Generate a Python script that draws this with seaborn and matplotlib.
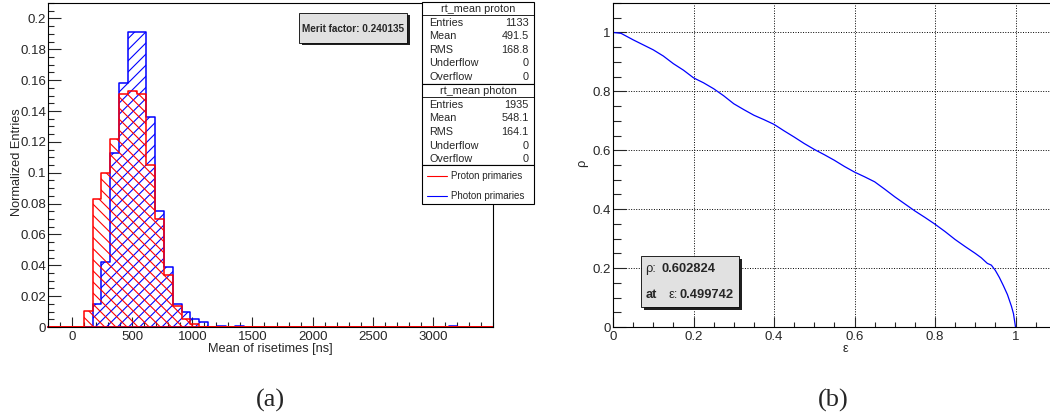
import numpy as np
import pandas as pd
import matplotlib
matplotlib.use("Agg")
import matplotlib.pyplot as plt
import seaborn as sns
from matplotlib.patches import Rectangle
from matplotlib.lines import Line2D
from matplotlib.ticker import MultipleLocator, FixedLocator, FuncFormatter

# ---------------- data ----------------
hist_range = (-200, 3500)
n_bins = 50
proton_vals = [0, 0, 0, 0, 0.0104, 0.083, 0.100, 0.122, 0.151, 0.153,
               0.151, 0.105, 0.070, 0.034, 0.0136, 0.005, 0.0018, 0, 0, 0,
               0, 0, 0, 0, 0, 0, 0, 0, 0, 0,
               0, 0, 0, 0, 0, 0, 0, 0, 0, 0,
               0, 0, 0, 0, 0, 0, 0, 0, 0, 0]
photon_vals = [0, 0, 0, 0, 0, 0.0147, 0.042, 0.113, 0.158, 0.191,
               0.191, 0.136, 0.075, 0.039, 0.0152, 0.0095, 0.005, 0.0032, 0, 0.0009,
               0, 0.0009, 0, 0, 0, 0, 0, 0, 0, 0,
               0, 0, 0, 0, 0, 0, 0, 0, 0, 0,
               0, 0, 0, 0, 0, 0.0005, 0, 0, 0, 0]
x_tick_labels = [0, 500, 1000, 1500, 2000, 2500, 3000]

proton_stats = [("Entries", "1133"), ("Mean", "491.5"), ("RMS", "168.8"),
                ("Underflow", "0"), ("Overflow", "0")]
photon_stats = [("Entries", "1935"), ("Mean", "548.1"), ("RMS", "164.1"),
                ("Underflow", "0"), ("Overflow", "0")]
merit_text = "Merit factor: 0.240135"

eps = [0.0, 0.02, 0.05, 0.075, 0.1, 0.125, 0.15, 0.175, 0.2, 0.225, 0.25, 0.275,
       0.3, 0.325, 0.35, 0.375, 0.4, 0.425, 0.45, 0.475, 0.5, 0.525, 0.55, 0.575,
       0.6, 0.625, 0.65, 0.675, 0.7, 0.725, 0.75, 0.775, 0.8, 0.825, 0.85, 0.875,
       0.9, 0.915, 0.93, 0.94, 0.95, 0.96, 0.97, 0.98, 0.99, 0.995, 1.0]
rho = [1.0, 0.997, 0.975, 0.958, 0.941, 0.92, 0.894, 0.872, 0.846, 0.829, 0.809, 0.785,
       0.758, 0.738, 0.719, 0.704, 0.688, 0.666, 0.645, 0.623, 0.603, 0.585, 0.566, 0.545,
       0.526, 0.51, 0.493, 0.468, 0.442, 0.418, 0.394, 0.372, 0.349, 0.324, 0.297, 0.273,
       0.25, 0.235, 0.216, 0.21, 0.192, 0.168, 0.14, 0.11, 0.07, 0.045, 0.0]

# ---------------- style ----------------
sns.set_style("white")
plt.rcParams['font.family'] = ['Liberation Sans', 'DejaVu Sans']
plt.rcParams['hatch.linewidth'] = 0.8
plt.rcParams['axes.linewidth'] = 0.8

W, H = 1050, 419
fig = plt.figure(figsize=(W / 100, H / 100), dpi=100)


def fx(x):
    return x / W


def fy(y):
    return 1 - y / H


gfmt = FuncFormatter(lambda v, p: "%g" % round(v, 6))

# ---------------- left: histograms ----------------
bw = (hist_range[1] - hist_range[0]) / n_bins
centers = [hist_range[0] + bw * (i + 0.5) for i in range(n_bins)]
photon_df = pd.DataFrame({"x": centers, "w": photon_vals})
proton_df = pd.DataFrame({"x": centers, "w": proton_vals})

ax1 = fig.add_axes([fx(48), fy(327), fx(493) - fx(48), fy(3) - fy(327)])
sns.histplot(data=photon_df, x="x", weights="w", bins=n_bins, binrange=hist_range,
             element="step", fill=True, color="#0000ff", facecolor="none",
             edgecolor="#0000ff", hatch="///", linewidth=1.1, ax=ax1, clip_on=False)
sns.histplot(data=proton_df, x="x", weights="w", bins=n_bins, binrange=hist_range,
             element="step", fill=True, color="#ff0000", facecolor="none",
             edgecolor="#ff0000", hatch="\\\\\\", linewidth=1.1, ax=ax1, clip_on=False)
ax1.set_xlim(*hist_range)
ax1.set_ylim(0, 0.21)
ax1.set_xlabel("")
ax1.set_ylabel("")
ax1.xaxis.set_major_locator(FixedLocator(x_tick_labels))
ax1.xaxis.set_minor_locator(MultipleLocator(100))
ax1.yaxis.set_major_locator(MultipleLocator(0.02))
ax1.yaxis.set_minor_locator(MultipleLocator(0.005))
ax1.xaxis.set_major_formatter(gfmt)
ax1.yaxis.set_major_formatter(gfmt)
ax1.tick_params(axis='x', which='major', direction='in', length=7, width=0.8,
                labelsize=9.5, pad=3, top=False, bottom=True)
ax1.tick_params(axis='x', which='minor', direction='in', length=3.6, width=0.8,
                top=False, bottom=True)
ax1.tick_params(axis='y', which='major', direction='in', length=9.4, width=0.8,
                labelsize=9.5, pad=1.5, left=True, right=False)
ax1.tick_params(axis='y', which='minor', direction='in', length=4, width=0.8,
                left=True, right=False)
for s in ax1.spines.values():
    s.set_color("black")
    s.set_linewidth(0.8)

fig.text(fx(17), fy(162), "Normalized Entries", rotation=90, ha='center',
         va='center', fontsize=9.2)
fig.text(fx(270), fy(349), "Mean of risetimes [ns]", ha='center', va='center',
         fontsize=9.2)

# merit factor box with shadow
fig.patches.append(Rectangle((fx(301.5), fy(45.5)), fx(108), fy(13.3) - fy(43.3),
                             transform=fig.transFigure, facecolor="#202020",
                             edgecolor="none", zorder=5))
fig.patches.append(Rectangle((fx(299.3), fy(43.3)), fx(108), fy(13.3) - fy(43.3),
                             transform=fig.transFigure, facecolor="#e1e1e1",
                             edgecolor="black", linewidth=0.6, zorder=6))
fig.text(fx(353.3), fy(28.5), merit_text, ha='center', va='center',
         fontsize=7.2, fontweight='bold', zorder=7)

# stats boxes
bx0, bx1 = 422.3, 534.0


def draw_box(y0, y1):
    fig.patches.append(Rectangle((fx(bx0), fy(y1)), fx(bx1 - bx0), fy(y0) - fy(y1),
                                 transform=fig.transFigure, facecolor="white",
                                 edgecolor="black", linewidth=0.8, zorder=5))


def hline(y):
    fig.add_artist(Line2D([fx(bx0), fx(bx1)], [fy(y), fy(y)], color="black",
                          linewidth=0.6, zorder=6))


def stats_block(y_top, y_bot, title, rows, title_line, row_ys):
    draw_box(y_top, y_bot)
    hline(title_line)
    fig.text(fx((bx0 + bx1) / 2), fy((y_top + title_line) / 2 + 0.5), title,
             ha='center', va='center', fontsize=7.8, zorder=7)
    for (lab, val), yy in zip(rows, row_ys):
        fig.text(fx(429), fy(yy), lab, ha='left', va='center', fontsize=7.8, zorder=7)
        fig.text(fx(528.7), fy(yy), val, ha='right', va='center', fontsize=7.8, zorder=7)


stats_block(1.7, 84, "rt_mean proton", proton_stats, 15,
            [23.3, 36.3, 50, 63.3, 77.3])
stats_block(84, 165, "rt_mean photon", photon_stats, 96.7,
            [104.5, 118.3, 132.2, 145.7, 159.3])
draw_box(165, 204.5)
for yy, col, lab in [(175.7, "#ff0000", "Proton primaries"),
                     (195.7, "#0000ff", "Photon primaries")]:
    fig.add_artist(Line2D([fx(426.7), fx(446.7)], [fy(yy), fy(yy)], color=col,
                          linewidth=0.8, zorder=7))
    fig.text(fx(450.7), fy(yy), lab, ha='left', va='center', fontsize=7, zorder=7)

# ---------------- right: rho vs eps ----------------
ax2 = fig.add_axes([fx(613), fy(327), fx(1055.75) - fx(613), fy(3) - fy(327)])
sns.lineplot(x=eps, y=rho, ax=ax2, color="#0000ff", linewidth=0.9,
             estimator=None, sort=False)
ax2.set_xlim(0, 1.1)
ax2.set_ylim(0, 1.1)
ax2.xaxis.set_major_locator(MultipleLocator(0.2))
ax2.xaxis.set_minor_locator(MultipleLocator(0.05))
ax2.yaxis.set_major_locator(MultipleLocator(0.2))
ax2.yaxis.set_minor_locator(MultipleLocator(0.05))
ax2.xaxis.set_major_formatter(gfmt)
ax2.yaxis.set_major_formatter(gfmt)
ax2.grid(True, which='major', color='black', linestyle=(0, (1, 1.6)), linewidth=0.7)
ax2.tick_params(axis='x', which='major', direction='in', length=7, width=0.8,
                labelsize=9.5, pad=3, top=False, bottom=True)
ax2.tick_params(axis='x', which='minor', direction='in', length=3.6, width=0.8,
                top=False, bottom=True)
ax2.tick_params(axis='y', which='major', direction='in', length=9.4, width=0.8,
                labelsize=9.5, pad=1.5, left=True, right=False)
ax2.tick_params(axis='y', which='minor', direction='in', length=5.5, width=0.8,
                left=True, right=False)
for s in ax2.spines.values():
    s.set_color("black")
    s.set_linewidth(0.8)

fig.text(fx(582), fy(163), "ρ", rotation=90, ha='center', va='center', fontsize=9.2)
fig.text(fx(845), fy(349), "ε", ha='center', va='center', fontsize=9.2)

# rho box with shadow
fig.patches.append(Rectangle((fx(643.5), fy(309.5)), fx(98), fy(256) - fy(307),
                             transform=fig.transFigure, facecolor="#202020",
                             edgecolor="none", zorder=5))
fig.patches.append(Rectangle((fx(641), fy(307)), fx(98), fy(256) - fy(307),
                             transform=fig.transFigure, facecolor="#e1e1e1",
                             edgecolor="black", linewidth=0.6, zorder=6))
fig.text(fx(645.5), fy(268.5), "ρ:", ha='left', va='center', fontsize=9.3, zorder=7)
fig.text(fx(661.5), fy(268.5), "0.602824", ha='left', va='center', fontsize=9.3,
         fontweight='bold', zorder=7)
fig.text(fx(645.5), fy(295), "at", ha='left', va='center', fontsize=9.3,
         fontweight='bold', zorder=7)
fig.text(fx(668.5), fy(295), "ε:", ha='left', va='center', fontsize=9.3, zorder=7)
fig.text(fx(679.5), fy(295), "0.499742", ha='left', va='center', fontsize=9.3,
         fontweight='bold', zorder=7)

# captions
fig.text(fx(270), fy(400), "(a)", ha='center', va='center', fontsize=19,
         family=['Liberation Serif', 'DejaVu Serif'])
fig.text(fx(833), fy(400), "(b)", ha='center', va='center', fontsize=19,
         family=['Liberation Serif', 'DejaVu Serif'])

fig.savefig("out.png", dpi=100)
